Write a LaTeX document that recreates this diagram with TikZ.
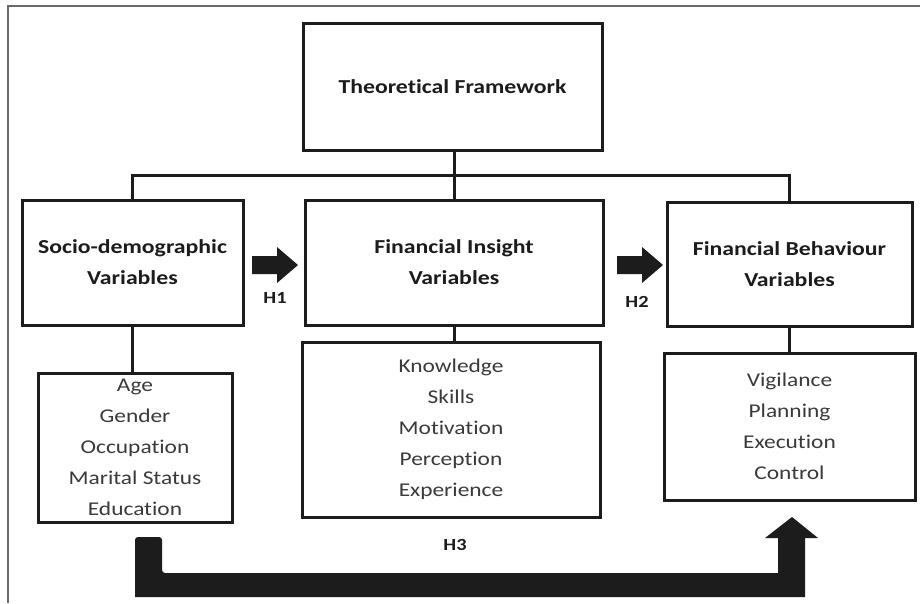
\documentclass[tikz,border=0pt]{standalone}
\usepackage{fontspec}
\setmainfont{Carlito}[FakeStretch=1.2, Ligatures={NoCommon}]
\usetikzlibrary{calc}
\definecolor{ink}{HTML}{1C1C1C}
\definecolor{txt}{HTML}{3A3A3A}
\definecolor{framegray}{HTML}{6A6A6A}
\begin{document}
\begin{tikzpicture}[x=1pt,y=-1pt,
  box/.style={draw=ink, line width=3pt, fill=white, align=center, inner sep=0pt},
  title/.style={font=\fontsize{19.8}{31}\selectfont\bfseries, text=ink},
  list/.style={font=\fontsize{19.5}{31}\selectfont, text=txt},
  conn/.style={draw=ink, line width=3pt},
  hlabel/.style={font=\fontsize{17}{18}\selectfont\bfseries, text=ink, inner sep=0pt},
  bigarrow/.style={fill=ink, draw=none}
]
\useasboundingbox (0,0) rectangle (920,603);
\fill[white] (0,0) rectangle (920,603);
% frame
\draw[framegray, line width=1.6pt] (8,603) -- (8,6) -- (920,6);

% boxes
\node[box, title, minimum width=299pt, minimum height=127pt] (top) at (452.5,86.5) {Theoretical Framework};
\node[box, title, minimum width=221pt, minimum height=125pt] (socio) at (132.5,262.5) {Socio-demographic\\Variables};
\node[box, title, minimum width=298pt, minimum height=125pt] (insight) at (454,262.5) {Financial Insight\\Variables};
\node[box, title, minimum width=245pt, minimum height=124pt] (behav) at (789.5,264) {Financial Behaviour\\Variables};

\node[box, list, minimum width=194pt, minimum height=149pt] (sociolist) at (135,447.5) {Age\\Gender\\Occupation\\Marital Status\\Education};
\node[box, list, minimum width=298pt, minimum height=175pt] (insightlist) at (451,429.5) {Knowledge\\Skills\\Motivation\\Perception\\Experience};
\node[box, list, minimum width=251pt, minimum height=147pt] (behavlist) at (789.5,426.5) {Vigilance\\Planning\\Execution\\Control};

% tree connectors
\coordinate (busL) at (socio.north |- 0,175);
\coordinate (busR) at (behav.north |- 0,175);
\draw[conn] (top.south -| insight.north) -- (insight.north);
\draw[conn, line cap=rect] (socio.north) -- (busL) -- (busR) -- (behav.north);
\draw[conn] (socio.south) -- (socio.south |- sociolist.north);
\draw[conn] (insight.south) -- (insight.south |- insightlist.north);
\draw[conn] (behav.south) -- (behav.south |- behavlist.north);

% H1 / H2 arrows
\fill[bigarrow] (252,256) -- (277,256) -- (277,247) -- (298,265) -- (277,283) -- (277,274) -- (252,274) -- cycle;
\fill[bigarrow] (617,256) -- (642,256) -- (642,247) -- (663,265) -- (642,283) -- (642,274) -- (617,274) -- cycle;
\node[hlabel] (h1) at (275,298) {H1};
\node[hlabel] (h2) at (637,302) {H2};
\node[hlabel] (h3) at (455,545) {H3};

% H3 big L arrow
\fill[bigarrow, rounded corners=3pt] (135,597) -- (135,537) -- (162,537) -- (162,573) [sharp corners] -- (778,573) -- (778,538) -- (765,538) -- (792,517) -- (818,538) -- (805,538) -- (805,597) -- cycle;
\end{tikzpicture}
\end{document}
